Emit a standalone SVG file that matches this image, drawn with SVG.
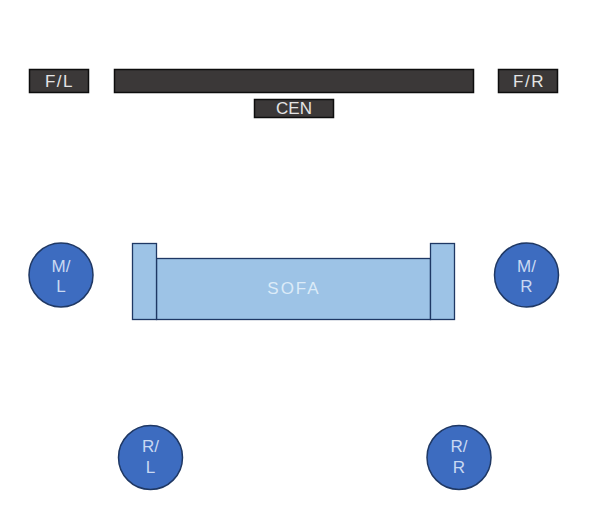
<svg xmlns="http://www.w3.org/2000/svg" width="596" height="528" viewBox="0 0 596 528">
<style>
.spk{fill:#3b3838;stroke:#0d0d0d;stroke-width:1.5}
.sofa{fill:#9dc3e6;stroke:#1f3864;stroke-width:1.3}
.c{fill:#3d6cc0;stroke:#1f3864;stroke-width:1.5}
text{font-family:"Liberation Sans",Arial,sans-serif;text-anchor:middle}
.d{fill:#e4e4e4;font-size:17px}
.w{letter-spacing:1.5px}
.l{fill:#c9d9f2;font-size:17px}
.s{fill:#dcebf8;font-size:17px;letter-spacing:2px}
</style>
<rect width="596" height="528" fill="#fff"/>
<g id="connectors"/>
<g id="fl"><rect class="spk" x="29.500" y="69.500" width="59" height="23"/><text class="d w" x="59.500" y="87">F/L</text></g>
<g id="screen"><rect class="spk" x="114.500" y="69.500" width="359" height="23"/></g>
<g id="fr"><rect class="spk" x="498.500" y="69.500" width="59" height="23"/><text class="d w" x="529" y="87">F/R</text></g>
<g id="cen"><rect class="spk" x="254.500" y="99.500" width="79" height="18"/><text class="d" x="294" y="114">CEN</text></g>
<g id="sofa">
<rect class="sofa" x="156.500" y="258.500" width="274" height="61"/>
<rect class="sofa" x="132.500" y="243.500" width="24" height="76"/>
<rect class="sofa" x="430.500" y="243.500" width="24" height="76"/>
<text class="s" x="294" y="294">SOFA</text>
</g>
<g id="ml"><circle class="c" cx="61" cy="275" r="32"/><text class="l" x="61" y="272">M/</text><text class="l" x="61" y="292">L</text></g>
<g id="mr"><circle class="c" cx="526.500" cy="275" r="32"/><text class="l" x="526.500" y="272">M/</text><text class="l" x="526.500" y="292">R</text></g>
<g id="rl"><circle class="c" cx="150.500" cy="457.500" r="32"/><text class="l" x="150.500" y="452">R/</text><text class="l" x="150.500" y="473">L</text></g>
<g id="rr"><circle class="c" cx="459" cy="457.500" r="32"/><text class="l" x="459" y="452">R/</text><text class="l" x="459" y="473">R</text></g>
</svg>
